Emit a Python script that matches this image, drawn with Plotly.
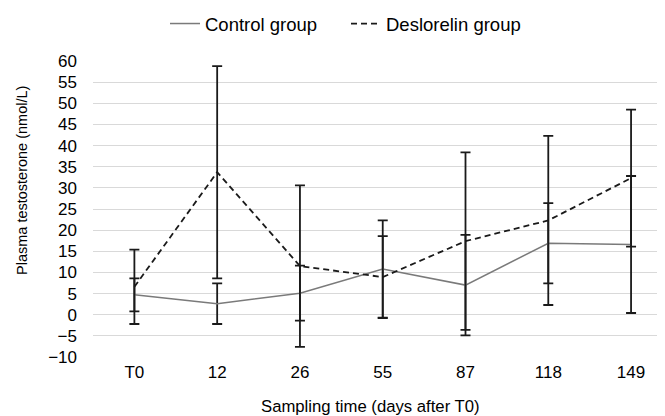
import plotly.graph_objects as go

categories = ["T0", "12", "26", "55", "87", "118", "149"]
control_mean = [4.7, 2.6, 5.1, 10.8, 7.0, 16.9, 16.6]
control_err = [3.9, 4.8, 6.5, 11.5, 11.9, 9.5, 16.2]
deslorelin_mean = [6.6, 33.7, 11.5, 8.9, 17.4, 22.3, 32.3]
deslorelin_err = [8.8, 25.1, 19.1, 9.7, 21.0, 20.0, 16.2]
y_ticks = list(range(-10, 61, 5))

FONT = "Liberation Sans, Arial, sans-serif"
W, H = 657, 408  # page body has an 8px margin

fig = go.Figure()
fig.add_trace(go.Scatter(
    x=categories, y=control_mean, mode="lines", name="Control group",
    line=dict(color="#7a7a7a", width=1.5),
    error_y=dict(type="data", array=control_err, visible=True,
                 color="#1a1a1a", thickness=1.8, width=5),
))
fig.add_trace(go.Scatter(
    x=categories, y=deslorelin_mean, mode="lines", name="Deslorelin group",
    line=dict(color="#1a1a1a", width=1.8, dash="6px,4px"),
    error_y=dict(type="data", array=deslorelin_err, visible=True,
                 color="#1a1a1a", thickness=1.8, width=5),
))

fig.update_layout(
    width=W, height=H,
    margin=dict(l=85, r=0, t=53, b=59, autoexpand=False),
    paper_bgcolor="white", plot_bgcolor="white",
    font=dict(family=FONT, size=16, color="#000000"),
    showlegend=True,
    legend=dict(orientation="h", xref="container", yref="container",
                x=157 / W, xanchor="left", y=1 - 16 / H, yanchor="middle",
                font=dict(size=18.5), itemwidth=30, entrywidth=136,
                bgcolor="rgba(0,0,0,0)"),
    xaxis=dict(type="category", range=[-0.5, 6.41], showgrid=False,
               zeroline=False, showline=False, ticks="", automargin=False,
               tickfont=dict(size=17), ticklabelstandoff=3),
    yaxis=dict(range=[-10, 60], tickvals=y_ticks,
               ticktext=[("\u2212" + str(-v)) if v < 0 else str(v) for v in y_ticks],
               showgrid=True, gridcolor="#d9d9d9", gridwidth=1.3,
               zeroline=False, showline=False, ticks="", automargin=False,
               tickfont=dict(size=17), ticklabelstandoff=15),
    annotations=[
        dict(text="Sampling time (days after T0)", xref="paper", yref="paper",
             x=(362 - 85) / (W - 85), y=-(398 - 349) / (349 - 53),
             xanchor="center", yanchor="middle", showarrow=False,
             font=dict(size=16.7)),
        dict(text="Plasma testosterone (nmol/L)", xref="paper", yref="paper",
             x=-(85 - 14) / (W - 85), y=(349 - 173) / (349 - 53),
             xanchor="center", yanchor="middle", showarrow=False,
             textangle=-90, font=dict(size=14.5)),
    ],
)

fig.write_html("out.html")
